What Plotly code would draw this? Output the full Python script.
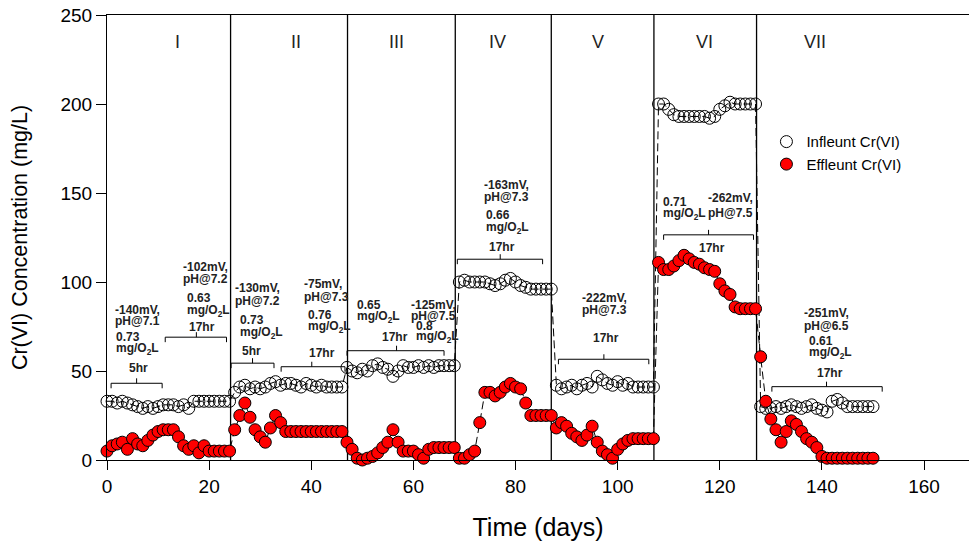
import plotly.graph_objects as go

# ---------------- data ----------------
days = list(range(0, 151))

influent = [
    # phase I (0-24)
    33, 33, 32, 33, 32, 31, 30, 29, 30, 29, 30, 31, 31, 31, 30, 31, 29, 33, 33, 33, 33, 33, 33, 33, 33,
    # phase II (25-46)
    38, 41, 42, 40, 41, 40, 41, 43, 44, 42, 43, 43, 42, 41, 43, 42, 41, 42, 41, 41, 41, 41,
    # phase III (47-68)
    52, 50, 49, 51, 50, 53, 54, 52, 51, 47, 50, 53, 52, 52, 53, 52, 53, 52, 53, 53, 53, 53,
    # phase IV (69-87)
    100, 101, 100, 100, 100, 100, 99, 98, 99, 101, 102, 100, 98, 97, 96, 96, 96, 96, 96,
    # phase V (88-107)
    42, 40, 41, 42, 40, 42, 43, 41, 47, 45, 43, 42, 44, 42, 43, 41, 41, 41, 41, 41,
    # phase VI (108-127)
    200, 200, 197, 194, 193, 193, 193, 193, 193, 193, 192, 193, 197, 199, 201, 200, 200, 200, 200, 200,
    # phase VII (128-150)
    30, 29, 29, 30, 29, 30, 31, 30, 29, 30, 31, 29, 28, 27, 33, 34, 32, 30, 30, 30, 30, 30, 30,
]

effluent = [
    # phase I
    5, 8, 9, 10, 6, 12, 9, 8, 11, 14, 16, 17, 17, 17, 13, 8, 6, 8, 4, 8, 5, 5, 5, 5, 5,
    # phase II
    17, 25, 32, 24, 17, 13, 10, 18, 25, 21, 16, 16, 16, 16, 16, 16, 16, 16, 16, 16, 16, 16,
    # phase III
    10, 6, 1, 0, 1, 2, 4, 7, 10, 17, 10, 5, 5, 5, 3, 1, 6, 7, 7, 7, 7, 7,
    # phase IV
    1, 1, 3, 5, 21, 38, 38, 36, 38, 41, 43, 41, 40, 32, 25, 25, 25, 25, 25,
    # phase V
    18, 21, 19, 15, 13, 11, 14, 19, 10, 5, 3, 1, 6, 9, 11, 12, 12, 12, 12, 12,
    # phase VI
    111, 107, 107, 109, 112, 115, 113, 111, 110, 108, 107, 106, 99, 95, 93, 86, 85, 85, 85, 85,
    # phase VII
    58, 33, 23, 17, 10, 16, 22, 20, 16, 12, 10, 7, 2, 1, 1, 1, 1, 1, 1, 1, 1, 1, 1,
]

phase_bounds = [24.2, 47.1, 68.2, 87.0, 107.1, 127.2]
phase_names = ["I", "II", "III", "IV", "V", "VI", "VII"]
phase_name_x = [13.9, 37.0, 56.7, 76.5, 96.2, 117.0, 138.7]
phase_name_y = 235

# brackets: (start day, end day, level, centre day)
brackets = [
    (0.8, 10.8, 43.1, 5.8),
    (11.4, 23.4, 69.0, 17.5),
    (24.3, 32.7, 54.4, 28.5),
    (34.1, 46.6, 52.4, 40.1),
    (47.0, 66.0, 61.4, 56.7),
    (68.6, 85.3, 112.8, 77.0),
    (88.4, 106.1, 56.6, 97.3),
    (109.0, 126.6, 126.5, 117.8),
    (130.2, 151.8, 41.2, 140.9),
]

O2 = "mg/O<sub>2</sub>L"
# condition notes: (day, level, text)
notes = [
    (1.25, 84.3, "-140mV,"), (1.25, 78.1, "pH@7.1"), (1.45, 69.1, "0.73"), (1.45, 62.4, O2), (4.0, 51.7, "5hr"),
    (14.4, 108.7, "-102mV,"), (14.4, 101.6, "pH@7.2"), (15.2, 91.2, "0.63"), (15.2, 83.9, O2), (15.7, 74.9, "17hr"),
    (24.7, 96.5, "-130mV,"), (24.7, 89.4, "pH@7.2"), (25.7, 78.7, "0.73"), (25.7, 71.6, O2), (26.1, 61.4, "5hr"),
    (38.2, 98.8, "-75mV,"), (38.2, 91.8, "pH@7.3"), (39.0, 81.5, "0.76"), (39.0, 74.6, O2), (39.2, 60.0, "17hr"),
    (48.6, 87.1, "0.65"), (48.6, 80.6, O2), (53.5, 69.3, "17hr"),
    (59.1, 87.1, "-125mV,"), (59.1, 80.9, "pH@7.5"), (60.1, 75.3, "0.8"), (60.1, 69.0, O2),
    (73.4, 154.6, "-163mV,"), (73.4, 147.7, "pH@7.3"), (73.8, 137.7, "0.66"), (73.8, 130.2, O2), (74.4, 119.9, "17hr"),
    (92.6, 90.9, "-222mV,"), (92.6, 84.3, "pH@7.3"), (94.7, 68.4, "17hr"),
    (108.4, 145.2, "0.71"), (108.4, 138.1, O2), (117.3, 147.1, "-262mV,"), (117.3, 139.0, "pH@7.5"), (115.5, 119.0, "17hr"),
    (136.1, 82.5, "-251mV,"), (136.1, 75.5, "pH@6.5"), (137.1, 66.9, "0.61"), (137.1, 60.0, O2), (138.7, 48.7, "17hr"),
]

FONT = "Arial, Liberation Sans, sans-serif"

fig = go.Figure()

fig.add_trace(go.Scatter(
    x=days, y=influent, mode="lines+markers", showlegend=False,
    line=dict(color="black", width=1, dash="8px,4px"),
    marker=dict(symbol="circle-open", size=12, color="black", line=dict(width=1)),
    cliponaxis=False,
))
fig.add_trace(go.Scatter(
    x=days, y=effluent, mode="lines+markers", showlegend=False,
    line=dict(color="black", width=1, dash="8px,4px"),
    marker=dict(symbol="circle", size=12, color="#ff0000", line=dict(color="black", width=1)),
    cliponaxis=False,
))
# legend entries (markers only)
fig.add_trace(go.Scatter(
    x=[None], y=[None], mode="markers", name="Infleunt Cr(VI)",
    marker=dict(symbol="circle", size=12, color="white", line=dict(color="black", width=1)),
))
fig.add_trace(go.Scatter(
    x=[None], y=[None], mode="markers", name="Effleunt Cr(VI)",
    marker=dict(symbol="circle", size=12, color="#ff0000", line=dict(color="black", width=1)),
))

shapes = []
for b in phase_bounds:
    shapes.append(dict(type="line", xref="x", yref="y", x0=b, x1=b, y0=0, y1=250,
                       line=dict(color="black", width=1.3), layer="below"))
tick = 2.8
for x0, x1, lvl, xc in brackets:
    path = (f"M {x0},{lvl - tick} L {x0},{lvl} L {x1},{lvl} L {x1},{lvl - tick} "
            f"M {xc},{lvl} L {xc},{lvl + tick}")
    shapes.append(dict(type="path", xref="x", yref="y", path=path,
                       line=dict(color="black", width=1)))

annotations = []
for name, px in zip(phase_names, phase_name_x):
    annotations.append(dict(x=px, y=phase_name_y, xref="x", yref="y", text=name, showarrow=False,
                            font=dict(family=FONT, size=18, color="#222222")))
for x, y, t in notes:
    annotations.append(dict(x=x, y=y, xref="x", yref="y", text=f"<b>{t}</b>", showarrow=False,
                            xanchor="left", yanchor="middle",
                            font=dict(family=FONT, size=12, color="#222222")))

fig.update_layout(
    width=969, height=549,
    margin=dict(l=107, r=0, t=15, b=89),
    paper_bgcolor="white", plot_bgcolor="white",
    font=dict(family=FONT, color="black"),
    shapes=shapes, annotations=annotations,
    legend=dict(x=0.765, y=0.752, xanchor="left", yanchor="top",
                font=dict(family=FONT, size=15, color="black"),
                bgcolor="rgba(0,0,0,0)", tracegroupgap=0),
    xaxis=dict(range=[0, 168.8], dtick=20, tick0=0, showgrid=False, zeroline=False,
               showline=True, linecolor="black", linewidth=1, mirror=True, automargin=False,
               ticks="outside", ticklen=9, tickcolor="black", ticklabeloverflow="allow",
               tickfont=dict(family=FONT, size=19, color="black"),
               title=dict(text="Time (days)", font=dict(family=FONT, size=25, color="black"), standoff=22)),
    yaxis=dict(range=[0, 250], dtick=50, showgrid=False, zeroline=False,
               showline=True, linecolor="black", linewidth=1, automargin=False,
               ticks="outside", ticklen=10, tickcolor="black", ticklabeloverflow="allow",
               tickfont=dict(family=FONT, size=19, color="black"),
               title=dict(text="Cr(VI) Concentration (mg/L)", font=dict(family=FONT, size=21.5, color="black"),
                          standoff=26)),
)

fig.write_html("out.html", config={"displayModeBar": False},
               post_script="document.body.style.margin='0';document.body.style.overflow='hidden';")
